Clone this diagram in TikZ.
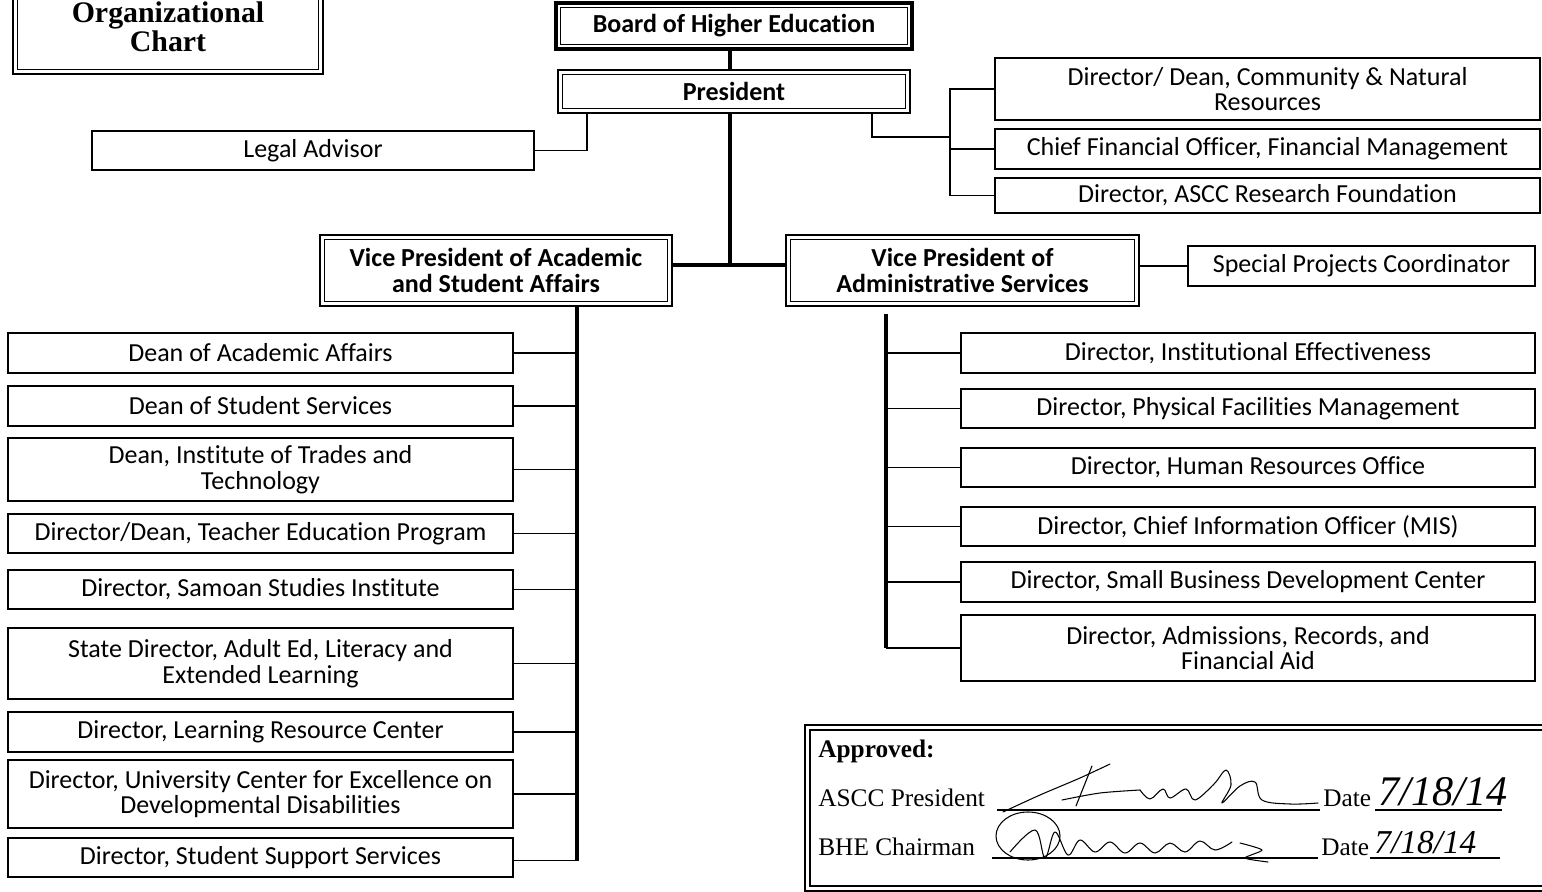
\documentclass[tikz,border=0pt]{standalone}
\usepackage{fontspec}
\setmainfont{Carlito}[Ligatures=NoCommon]
\newfontfamily\serifrm{Liberation Serif}
\usetikzlibrary{calc}

\newcommand\pxu{0.02cm}
\newcommand\boxfont{\fontsize{14.8pt}{14.7pt}\selectfont}

\tikzset{
  box/.style={draw, line width=0.9pt, inner sep=0pt, align=center, font=\boxfont},
  sz/.style 2 args={minimum width=#1*\pxu, minimum height=#2*\pxu},
  dblbox/.style={box, line width=#1, font=\boxfont\bfseries,
    path picture={\draw[line width=0.8pt]
      ([shift={(2.6pt,-2.6pt)}]path picture bounding box.north west) rectangle
      ([shift={(-2.6pt,2.6pt)}]path picture bounding box.south east);}},
  spine/.style={line width=2.8pt},
  link/.style={line width=1pt},
  sig/.style={line width=0.6pt, line cap=round, line join=round},
}

\begin{document}
\begin{tikzpicture}[x=0.02cm, y=-0.02cm]
  \useasboundingbox (0,0) rectangle (1542,892);

  % Title
  \node[dblbox=1.7pt, sz={310}{94},
        font=\serifrm\bfseries\fontsize{17pt}{14.5pt}\selectfont]
        (title) at (168,27) {Organizational\\Chart};

  % Board and President
  \node[dblbox=2.2pt, sz={356}{46}] (board) at (734,26) {Board of Higher Education};
  \node[dblbox=1.2pt, sz={352}{43}] (pres) at (734,91.5) {President};

  % Legal Advisor
  \node[box, sz={442}{39}] (legal) at (313,150.5) {Legal Advisor};

  % Offices reporting to the President (right)
  \node[box, sz={545}{62}] (cnr) at (1267.5,89) {Director/ Dean, Community \& Natural\\Resources};
  \node[box, sz={545}{40}] (cfo) at (1267.5,149) {Chief Financial Officer, Financial Management};
  \node[box, sz={545}{35}] (rfound) at (1267.5,195.5) {Director, ASCC Research Foundation};

  % Vice Presidents
  \node[dblbox=1.2pt, sz={352}{71}] (vpa) at (496,270.5) {Vice President of Academic\\and Student Affairs};
  \node[dblbox=1.2pt, sz={353}{71}] (vpb) at (962.5,270.5) {Vice President of\\Administrative Services};
  \node[box, sz={347}{40}] (spc) at (1361.5,266) {Special Projects Coordinator};

  % Academic and Student Affairs units
  \node[box, sz={505}{40}] (acad) at (260.5,353) {Dean of Academic Affairs};
  \node[box, sz={505}{40}] (stud) at (260.5,406) {Dean of Student Services};
  \node[box, sz={505}{63}] (trades) at (260.5,469.5) {Dean, Institute of Trades and\\Technology};
  \node[box, sz={505}{39}] (teach) at (260.5,533.5) {Director/Dean, Teacher Education Program};
  \node[box, sz={505}{39}] (samoan) at (260.5,589.5) {Director, Samoan Studies Institute};
  \node[box, sz={505}{71}] (adulted) at (260.5,663.5) {State Director, Adult Ed, Literacy and\\Extended Learning};
  \node[box, sz={505}{40}] (lrc) at (260.5,732) {Director, Learning Resource Center};
  \node[box, sz={505}{68}] (ucedd) at (260.5,794) {Director, University Center for Excellence on\\Developmental Disabilities};
  \node[box, sz={505}{39}] (sss) at (260.5,857.5) {Director, Student Support Services};

  % Administrative Services units
  \node[box, sz={574}{40}] (ie) at (1248,353) {Director, Institutional Effectiveness};
  \node[box, sz={574}{39}] (pfm) at (1248,408.5) {Director, Physical Facilities Management};
  \node[box, sz={574}{39}] (hr) at (1248,467.5) {Director, Human Resources Office};
  \node[box, sz={574}{39}] (cio) at (1248,526.5) {Director, Chief Information Officer (MIS)};
  \node[box, sz={574}{40}] (sbdc) at (1248,582) {Director, Small Business Development Center};
  \node[box, sz={574}{66}] (adm) at (1248,648) {Director, Admissions, Records, and\\Financial Aid};

  % Spine positions
  \coordinate (csp) at (730,265);
  \coordinate (lgl) at (587,0);
  \coordinate (prr) at (872,0);
  \coordinate (rsp) at (950,137);
  \coordinate (lsp) at (577,0);
  \coordinate (asp) at (886,0);

  % Central lines
  \draw[spine] (board.south -| csp) -- (pres.north -| csp);
  \draw[spine] (pres.south -| csp) -- (csp);
  \draw[line width=2pt] (vpa.east |- csp) -- (vpb.west |- csp);
  \draw[link] (legal.east) -| (pres.south -| lgl);
  \draw[link] (pres.south -| prr) |- (rsp);
  \draw[link] (cnr.west) -| (rsp |- rfound.west) -- (rfound.west);
  \draw[link] (cfo.west) -- (cfo.west -| rsp);
  \draw[link] (vpb.east |- spc.west) -- (spc.west);

  % Academic spine
  \draw[spine] (vpa.south -| lsp) -- ($(lsp |- sss.east)+(0,3)$);
  \draw[link] (acad.east) -- (acad.east -| lsp);
  \draw[link] (stud.east) -- (stud.east -| lsp);
  \draw[link] (trades.east) -- (trades.east -| lsp);
  \draw[link] (teach.east) -- (teach.east -| lsp);
  \draw[link] (samoan.east) -- (samoan.east -| lsp);
  \draw[link] (adulted.east) -- (adulted.east -| lsp);
  \draw[link] (lrc.east) -- (lrc.east -| lsp);
  \draw[link] (ucedd.east) -- (ucedd.east -| lsp);
  \draw[link] ($(sss.east)+(0,3)$) -- ($(sss.east -| lsp)+(0,3)$);

  % Administrative spine
  \draw[spine] ($(vpb.south -| asp)+(0,7)$) -- (adm.west -| asp);
  \draw[link] (ie.west) -- (ie.west -| asp);
  \draw[link] (pfm.west) -- (pfm.west -| asp);
  \draw[link] (hr.west) -- (hr.west -| asp);
  \draw[link] (cio.west) -- (cio.west -| asp);
  \draw[link] (sbdc.west) -- (sbdc.west -| asp);
  \draw[link] (adm.west) -- (adm.west -| asp);

  % Approval block
  \draw[line width=1.2pt] (805,725) rectangle (1550,891);
  \draw[line width=0.7pt] (810,730) rectangle (1550,886);
  \begin{scope}[font=\serifrm\fontsize{14.4pt}{16pt}\selectfont]
    \node[anchor=base west, inner sep=0pt, font=\serifrm\bfseries\fontsize{14.4pt}{16pt}\selectfont]
      (appr) at (818,757) {Approved:};
    \node[anchor=base west, inner sep=0pt] (ascc) at (818,806) {ASCC President};
    \node[anchor=base west, inner sep=0pt] (date1) at (1323,806) {Date};
    \node[anchor=base west, inner sep=0pt] (bhe) at (818,855) {BHE Chairman};
    \node[anchor=base west, inner sep=0pt] (date2) at (1321,855) {Date};
  \end{scope}
  \draw[line width=0.7pt] (997,810) -- (1320,810) (1375,810) -- (1502,810);
  \draw[line width=0.7pt] (992,858) -- (1318,858) (1370,858) -- (1500,858);
  \node[anchor=base west, inner sep=0pt, font=\serifrm\itshape\fontsize{24pt}{24pt}\selectfont]
    (dv1) at (1378,805) {7/18/14};
  \node[anchor=base west, inner sep=0pt, font=\serifrm\itshape\fontsize{19pt}{19pt}\selectfont]
    (dv2) at (1374,853) {7/18/14};

  % Signatures
  \draw[sig] plot[smooth] coordinates {(1003,812) (1040,795) (1080,778) (1110,764)};
  \draw[sig] plot[smooth] coordinates {(1092,766) (1084,786) (1076,806)};
  \draw[sig] plot[smooth] coordinates {(1062,800) (1100,793) (1140,790)};
  \draw[sig] plot[smooth, tension=0.6] coordinates {(1140,790) (1150,799) (1163,789) (1170,798)
    (1186,789) (1195,800) (1214,784) (1226,770) (1231,785) (1222,803) (1240,786)
    (1255,782) (1262,800) (1290,804) (1318,803)};
  \draw[sig] (1028,836) ellipse [x radius=32, y radius=24];
  \draw[sig] plot[smooth, tension=0.6] coordinates {(1010,852) (1035,830) (1045,858) (1055,832)
    (1068,855) (1080,840) (1095,852) (1110,842) (1125,853) (1140,843) (1155,853)
    (1170,843) (1185,852) (1200,841) (1215,850) (1232,842)};
  \draw[sig] plot[smooth, tension=0.4] coordinates {(1240,843) (1262,850) (1245,858) (1268,862)};
\end{tikzpicture}
\end{document}
